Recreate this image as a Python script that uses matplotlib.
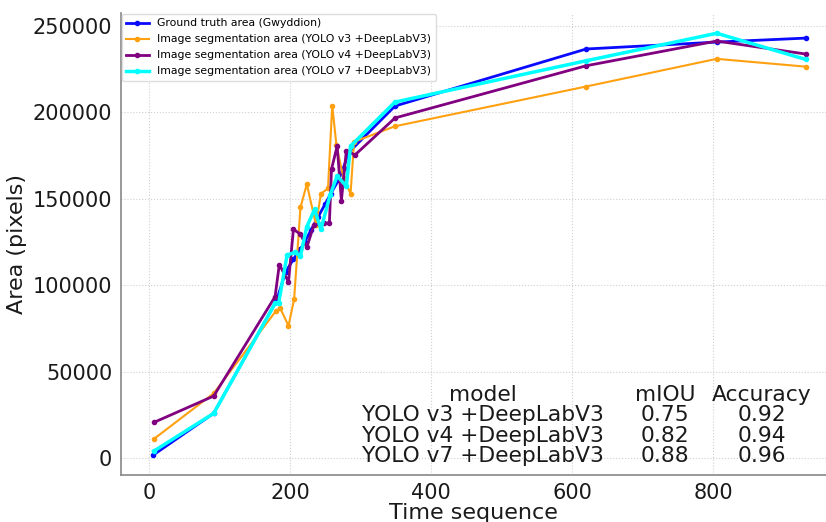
import matplotlib.pyplot as plt

# time sequence and areas
gt_x = [6, 92, 181, 194, 205, 215, 221, 230, 240, 250, 258, 269, 276, 283, 349, 620, 805, 931]
gt_y = [1700, 25900, 91000, 107800, 115000, 121000, 125000, 132000, 139600, 147000, 153000, 160900, 168000, 176700, 203700, 236700, 240700, 243000]

v3_x = [7, 92, 180, 186, 198, 206, 215, 224, 237, 244, 254, 260, 266, 276, 286, 291, 349, 620, 805, 931]
v3_y = [11000, 37500, 85000, 87000, 76500, 92000, 145000, 158500, 135000, 153000, 156000, 204000, 181000, 162000, 153000, 183000, 192000, 215000, 231000, 226500]

v4_x = [7, 92, 179, 185, 198, 205, 215, 224, 234, 248, 256, 259, 267, 273, 280, 284, 292, 349, 620, 805, 931]
v4_y = [20600, 35900, 93400, 112000, 102000, 132300, 129600, 122000, 134800, 135800, 136100, 167200, 180500, 149000, 177800, 177300, 175300, 196800, 227000, 241300, 233800]

v7_x = [7, 92, 179, 184, 196, 207, 215, 224, 235, 244, 257, 267, 280, 286, 349, 620, 805, 931]
v7_y = [4000, 25900, 89500, 89500, 117500, 119000, 117000, 133900, 143900, 132300, 152200, 163200, 157400, 180500, 206000, 229900, 245800, 230700]

labels = [
    "Ground truth area (Gwyddion)",
    "Image segmentation area (YOLO v3 +DeepLabV3)",
    "Image segmentation area (YOLO v4 +DeepLabV3)",
    "Image segmentation area (YOLO v7 +DeepLabV3)",
]

models = ["YOLO v3 +DeepLabV3", "YOLO v4 +DeepLabV3", "YOLO v7 +DeepLabV3"]
miou = [0.75, 0.82, 0.88]
accuracy = [0.92, 0.94, 0.96]

fig = plt.figure(figsize=(8.26, 5.22), dpi=100)
ax = fig.add_axes([0.146, 0.090, 0.854, 0.885])

ax.plot(gt_x, gt_y, color="#0a0aff", marker="o", markersize=3, linewidth=2, label=labels[0])
ax.plot(v3_x, v3_y, color="#ffa010", marker="o", markersize=3, linewidth=1.5, label=labels[1])
ax.plot(v4_x, v4_y, color="#800080", marker="o", markersize=3, linewidth=2, label=labels[2])
ax.plot(v7_x, v7_y, color="cyan", marker="o", markersize=3, linewidth=2.5, label=labels[3])

ax.set_xlim(-40, 960)
ax.set_ylim(-9800, 257500)
ax.set_xticks([0, 200, 400, 600, 800])
ax.set_yticks([0, 50000, 100000, 150000, 200000, 250000])
ax.tick_params(length=0, labelsize=15, colors="#1a1a1a", pad=6)

ax.set_xlabel("Time sequence", fontsize=16, color="#1a1a1a", labelpad=0)
ax.set_ylabel("Area (pixels)", fontsize=16, color="#1a1a1a")

ax.grid(True, linestyle=":", color="#d0d0d0", linewidth=0.8)
for side in ["top", "right"]:
    ax.spines[side].set_visible(False)
for side in ["left", "bottom"]:
    ax.spines[side].set_color("#888888")
    ax.spines[side].set_linewidth(1.2)

ax.legend(loc="upper left", fontsize=7.8, frameon=True, framealpha=1,
          edgecolor="#dddddd", borderaxespad=0.1, handlelength=2.1,
          labelspacing=0.55)

# summary table, written as plain text
tx = ax.transAxes
col_x = [0.514, 0.772, 0.909]
head_y = 0.173
row_y = [0.130, 0.0855, 0.041]
for cx, h in zip(col_x, ["model", "mIOU", "Accuracy"]):
    ax.text(cx, head_y, h, fontsize=15.7, ha="center", va="center", transform=tx, color="#1a1a1a")
for yy, m, a, b in zip(row_y, models, miou, accuracy):
    ax.text(col_x[0], yy, m, fontsize=15.7, ha="center", va="center", transform=tx, color="#1a1a1a")
    ax.text(col_x[1], yy, f"{a:.2f}", fontsize=15.7, ha="center", va="center", transform=tx, color="#1a1a1a")
    ax.text(col_x[2], yy, f"{b:.2f}", fontsize=15.7, ha="center", va="center", transform=tx, color="#1a1a1a")

fig.savefig("out.png", dpi=100)
